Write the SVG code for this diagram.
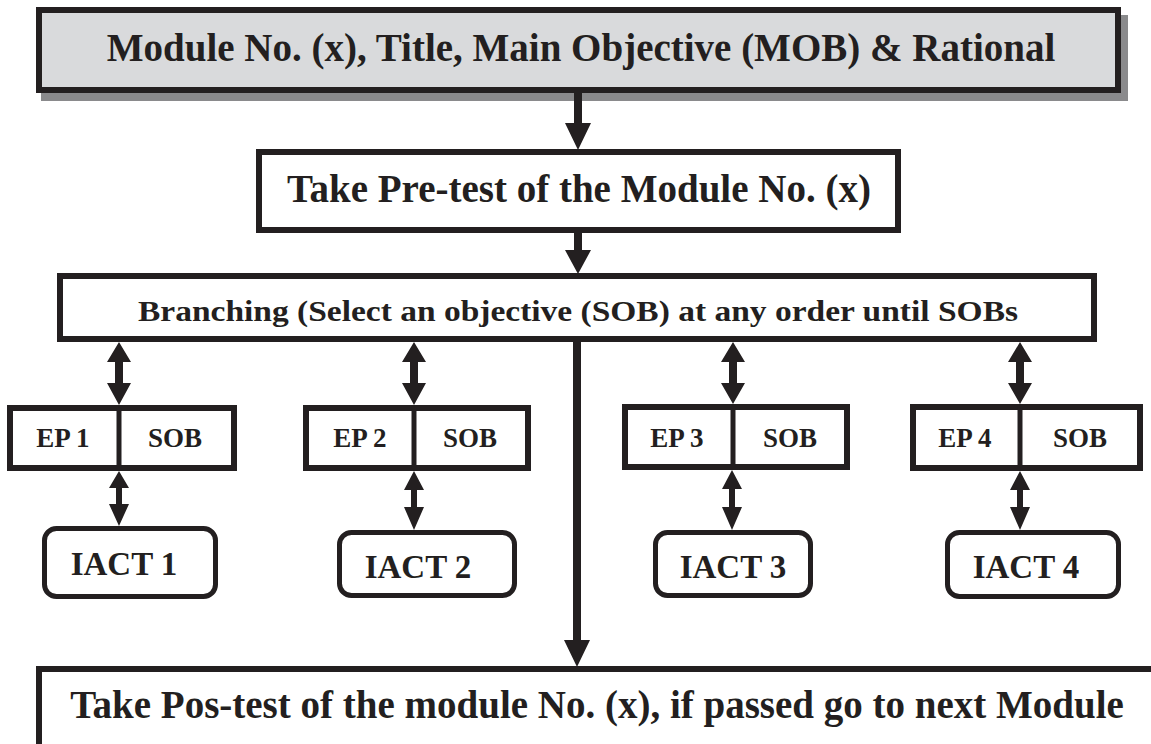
<svg xmlns="http://www.w3.org/2000/svg" width="1151" height="744" viewBox="0 0 1151 744">
  <style>
    .box { fill: #ffffff; stroke: #231f20; stroke-width: 6; }
    .ibox { fill: #ffffff; stroke: #231f20; stroke-width: 5; }
    .div { stroke: #231f20; stroke-width: 5; }
    .t { font-family: "Liberation Serif", "Times New Roman", serif; font-weight: bold; fill: #231f20; text-anchor: middle; }
    .ep { font-size: 27px; }
    .ia { font-size: 33px; }
    .arrow { fill: #231f20; }
  </style>
  <rect width="1151" height="744" fill="#ffffff"/>

  <!-- header with drop shadow -->
  <g id="module-header">
    <rect x="41" y="15" width="1087" height="86" fill="#8a8a8c"/>
    <rect x="39" y="10" width="1079" height="80" fill="#d9dadc" stroke="#231f20" stroke-width="6"/>
    <text class="t" x="581" y="61" font-size="39">Module No. (x), Title, Main Objective (MOB) &amp; Rational</text>
  </g>

  <g id="pre-test">
    <rect class="box" x="259" y="152" width="639" height="78"/>
    <text class="t" x="579" y="202" font-size="39">Take Pre-test of the Module No. (x)</text>
  </g>

  <g id="branching">
    <rect class="box" x="60" y="276" width="1034" height="63"/>
    <text class="t" x="578" y="321" font-size="30" textLength="880" lengthAdjust="spacingAndGlyphs">Branching (Select an objective (SOB) at any order until SOBs</text>
  </g>

  <g id="ep1">
    <rect class="box" x="10" y="408" width="224" height="60"/>
    <line class="div" x1="119" y1="408" x2="119" y2="468"/>
    <text class="t ep" x="63" y="447">EP 1</text>
    <text class="t ep" x="175" y="447">SOB</text>
  </g>
  <g id="ep2">
    <rect class="box" x="306" y="408" width="222" height="60"/>
    <line class="div" x1="414" y1="408" x2="414" y2="468"/>
    <text class="t ep" x="360" y="447">EP 2</text>
    <text class="t ep" x="470" y="447">SOB</text>
  </g>
  <g id="ep3">
    <rect class="box" x="625" y="407" width="222" height="60"/>
    <line class="div" x1="733" y1="407" x2="733" y2="467"/>
    <text class="t ep" x="677" y="447">EP 3</text>
    <text class="t ep" x="790" y="447">SOB</text>
  </g>
  <g id="ep4">
    <rect class="box" x="913" y="407" width="227" height="61"/>
    <line class="div" x1="1020" y1="407" x2="1020" y2="468"/>
    <text class="t ep" x="965" y="447">EP 4</text>
    <text class="t ep" x="1080" y="447">SOB</text>
  </g>

  <g id="iact1">
    <rect class="ibox" x="44.5" y="528.5" width="171" height="68" rx="12"/>
    <text class="t ia" x="124" y="575">IACT 1</text>
  </g>
  <g id="iact2">
    <rect class="ibox" x="339.5" y="532.5" width="175" height="63" rx="12"/>
    <text class="t ia" x="418" y="578">IACT 2</text>
  </g>
  <g id="iact3">
    <rect class="ibox" x="655.5" y="532.5" width="155" height="63" rx="12"/>
    <text class="t ia" x="733" y="578">IACT 3</text>
  </g>
  <g id="iact4">
    <rect class="ibox" x="947.5" y="532.5" width="171" height="64" rx="12"/>
    <text class="t ia" x="1026" y="578">IACT 4</text>
  </g>

  <g id="post-test">
    <rect class="box" x="39" y="669" width="1200" height="200"/>
    <text class="t" x="597" y="718" font-size="39">Take Pos-test of the module No. (x), if passed go to next Module</text>
  </g>

  <g id="connectors">
    <!-- header to pre-test -->
    <path class="arrow" d="M574,93 H582 V123 H591 L578,150 L565,123 H574 Z"/>
    <!-- pre-test to branching -->
    <path class="arrow" d="M574,233 H582 V250 H591 L578,274 L565,250 H574 Z"/>
    <!-- branching to post-test -->
    <path class="arrow" d="M573,342 H581 V640 H590 L577,667 L564,640 H573 Z"/>
    <!-- branching to each EP -->
    <path class="arrow" d="M119,342 L131,362 H123 V383 H131 L119,405 L107,383 H115 V362 H107 Z"/>
    <path class="arrow" d="M414,342 L426,362 H418 V383 H426 L414,405 L402,383 H410 V362 H402 Z"/>
    <path class="arrow" d="M733,342 L745,362 H737 V383 H745 L733,404 L721,383 H729 V362 H721 Z"/>
    <path class="arrow" d="M1020,342 L1032,362 H1024 V383 H1032 L1020,404 L1008,383 H1016 V362 H1008 Z"/>
    <!-- each EP to its IACT -->
    <path class="arrow" d="M119,471 L129,488 H122 V504 H129 L119,526 L109,504 H116 V488 H109 Z"/>
    <path class="arrow" d="M414,471 L424,490 H417 V507 H424 L414,530 L404,507 H411 V490 H404 Z"/>
    <path class="arrow" d="M732,470 L742,489 H735 V507 H742 L732,530 L722,507 H729 V489 H722 Z"/>
    <path class="arrow" d="M1020,471 L1030,490 H1023 V507 H1030 L1020,530 L1010,507 H1017 V490 H1010 Z"/>
  </g>
</svg>
